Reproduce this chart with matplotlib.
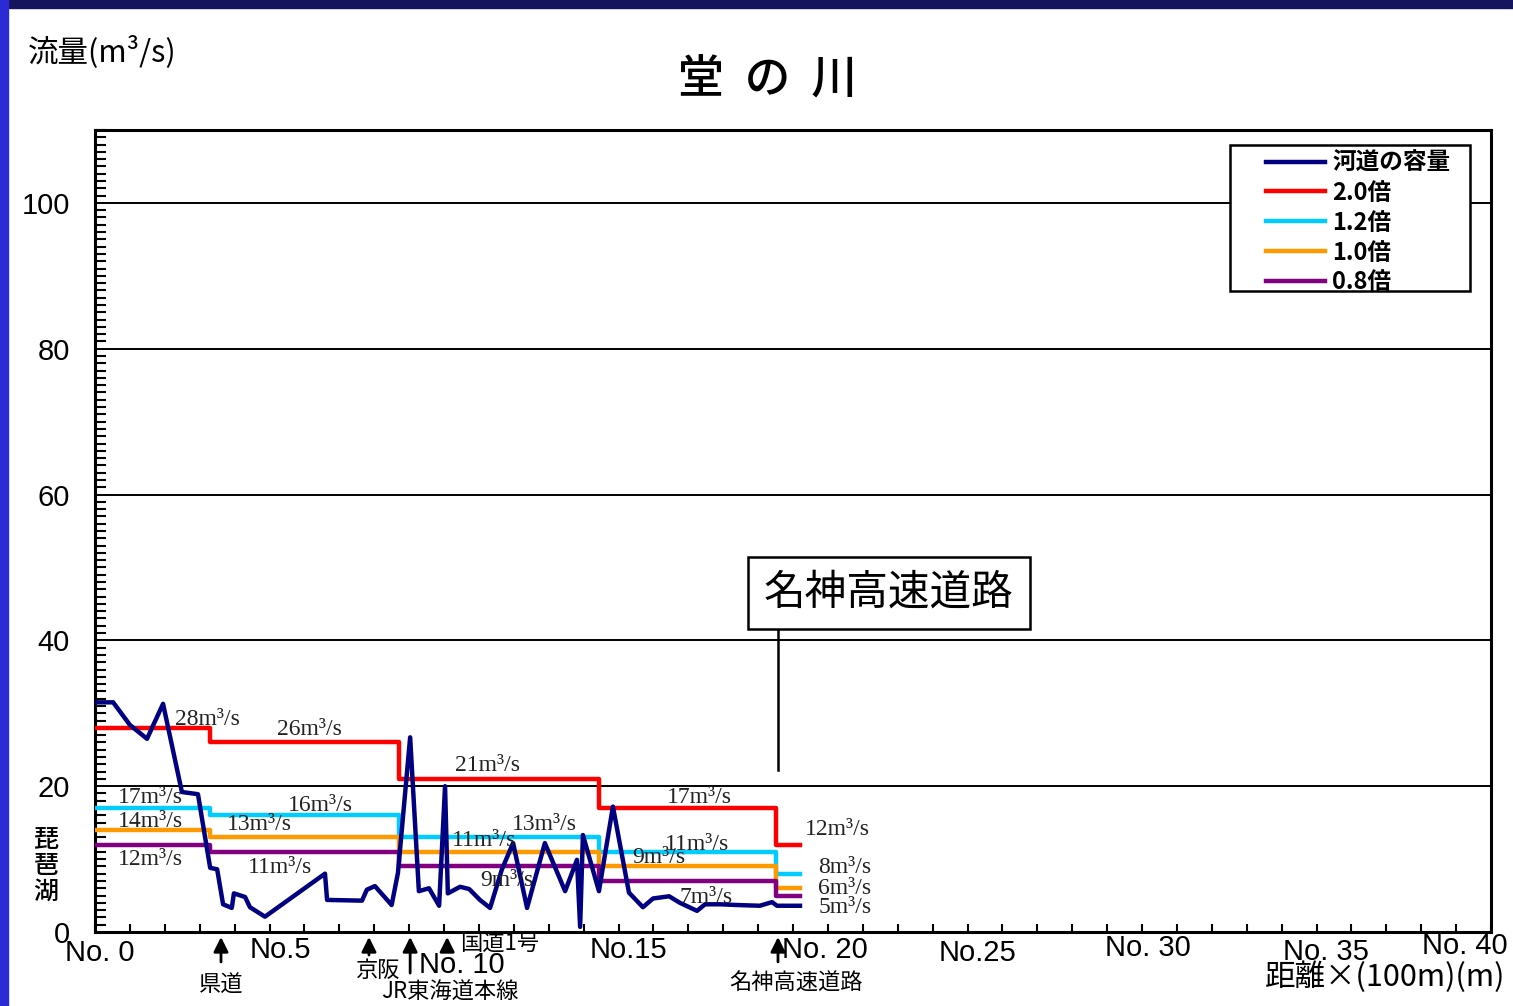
import matplotlib
matplotlib.use('Agg')
import matplotlib.pyplot as plt
from matplotlib import font_manager
from matplotlib.patches import Rectangle

W, H = 1513, 1006

# 河道の容量 (距離 No., 流量 m3/s)
cap_x = [0, 0.52, 1.0, 1.49, 1.95, 2.49, 2.95, 3.3, 3.5, 3.67, 3.92, 3.98, 4.3, 4.44, 4.87,
         6.59, 6.65, 7.65, 7.79, 8.02, 8.5, 8.68, 9.03, 9.28, 9.57, 9.86, 10.03, 10.11, 10.46,
         10.72, 11.03, 11.32, 11.66, 11.98, 12.38, 12.89, 13.47, 13.81, 13.9, 13.98, 14.44,
         14.84, 15.3, 15.7, 15.99, 16.45, 16.76, 17.25, 17.48, 17.91, 18.4, 19.05, 19.4, 19.54, 20.2]
cap_y = [31.5, 31.5, 28.4, 26.5, 31.3, 19.2, 18.9, 8.8, 8.6, 3.8, 3.3, 5.3, 4.8, 3.4, 2.1,
         8.0, 4.4, 4.3, 5.8, 6.3, 3.7, 8.1, 26.7, 5.6, 6.0, 3.6, 20.0, 5.3, 6.2,
         5.9, 4.4, 3.3, 8.6, 12.2, 3.3, 12.2, 5.6, 9.9, 0.7, 13.3, 5.6,
         17.2, 5.4, 3.4, 4.6, 4.9, 4.0, 2.9, 3.8, 3.8, 3.7, 3.6, 4.1, 3.6, 3.6]

# 区間境界 と 各倍率の流量
step_x = [0, 3.3, 8.7, 14.45, 19.5, 20.2]
q20 = [28, 26, 21, 17, 12]
q12 = [17, 16, 13, 11, 8]
q10 = [14, 13, 11, 9, 6]
q08 = [12, 11, 9, 7, 5]

series = [('2.0倍', q20, '#ff0000'), ('1.2倍', q12, '#00ccff'),
          ('1.0倍', q10, '#ff9900'), ('0.8倍', q08, '#800080')]

# 流量ラベル (文字, x, y)
flow_labels = [('28m³/s', 2.29, 29.1), ('26m³/s', 5.21, 27.8), ('21m³/s', 10.32, 22.9),
               ('17m³/s', 16.39, 18.5), ('12m³/s', 20.34, 14.1),
               ('17m³/s', 0.66, 18.5), ('16m³/s', 5.53, 17.4), ('13m³/s', 11.95, 14.7),
               ('11m³/s', 16.33, 12.0), ('8m³/s', 20.72, 8.8),
               ('14m³/s', 0.66, 15.2), ('13m³/s', 3.78, 14.7), ('11m³/s', 10.23, 12.6),
               ('9m³/s', 15.39, 10.2), ('6m³/s', 20.72, 6.0),
               ('12m³/s', 0.66, 9.9), ('11m³/s', 4.38, 8.8), ('9m³/s', 11.03, 7.1),
               ('7m³/s', 16.76, 4.8), ('5m³/s', 20.72, 3.3)]

# 横断構造物 (名称, 位置, 矢印長さpt)
crossings = [('県道', 3.61, 22), ('京阪', 7.85, 17), ('JR東海道本線', 9.03, 30),
             ('国道1号', 10.09, 10), ('名神高速道路', 19.57, 22)]

# 測点ラベル (文字, 画素x, 画素y)
station_labels = [('No. 0', 100, 953), ('No.5', 280, 950), ('No. 10', 462, 965),
                  ('No.15', 628, 950), ('No. 20', 825, 950), ('No.25', 978, 953),
                  ('No. 30', 1148, 948), ('No. 35', 1326, 952), ('No. 40', 1465, 946)]

names = {f.name for f in font_manager.fontManager.ttflist}
NARROW = 'Liberation Sans Narrow' if 'Liberation Sans Narrow' in names else 'Liberation Sans'
JP = 'Noto Sans CJK JP'
plt.rcParams['font.family'] = [JP, 'DejaVu Sans']


def fx(x):
    return x / W


def fy(y):
    return 1 - y / H


fig = plt.figure(figsize=(W / 100, H / 100), dpi=100)
# 枠の帯
fig.patches.append(Rectangle((0, fy(8)), 1, 8 / H, transform=fig.transFigure,
                             color='#15155e', zorder=0))
fig.patches.append(Rectangle((0, 0), 8 / W, 1, transform=fig.transFigure,
                             color='#2b2bd6', zorder=0))

ax = fig.add_axes([fx(95), fy(932), fx(1491) - fx(95), fy(130) - fy(932)])
ax.set_xlim(0, 40)
ax.set_ylim(0, 110)

for v in [20, 40, 60, 80, 100]:
    ax.axhline(v, color='black', lw=1.4, zorder=1)

ax.plot(cap_x, cap_y, color='#000080', lw=3.2, label='河道の容量', zorder=4)
for name, q, c in series:
    xs, ys = [], []
    for i, v in enumerate(q):
        xs += [step_x[i], step_x[i + 1]]
        ys += [v, v]
    ax.plot(xs, ys, color=c, lw=3.2, label=name, zorder=3)

for t, x, y in flow_labels:
    ax.text(x, y, t, fontsize=17, family=['Liberation Serif', 'DejaVu Serif'],
            color='#222222', ha='left', va='center', zorder=5)

# 名神高速道路 の囲み
ax.text(22.75, 46.5, '名神高速道路', fontsize=30, ha='center', va='center',
        bbox=dict(boxstyle='square,pad=0.38', fc='white', ec='black', lw=1.8), zorder=6)
ax.plot([19.57, 19.57], [22.2, 41.7], color='black', lw=1.8, zorder=5)

for name, x, ln in crossings:
    ax.annotate('', xy=(x, -0.3), xycoords='data', xytext=(0, -ln), textcoords='offset points',
                arrowprops=dict(arrowstyle='-|>', color='black', lw=2, mutation_scale=22),
                annotation_clip=False)

ax.set_xticks(range(0, 41))
ax.set_xticklabels([])
ax.set_yticks(range(0, 101, 20))
ax.set_yticklabels([str(v) for v in range(0, 101, 20)], family=[NARROW, 'DejaVu Sans'], fontsize=21)
ax.set_yticks(range(0, 111), minor=True)
ax.tick_params(axis='x', direction='in', length=6, width=1.5)
ax.tick_params(axis='y', which='major', length=0, pad=18)
ax.tick_params(axis='y', which='minor', direction='in', length=8, width=1.5)
for s in ax.spines.values():
    s.set_linewidth(2.2)

# 凡例の枠
ax.add_patch(Rectangle((0.813, 0.799), 0.172, 0.182, transform=ax.transAxes,
                       fc='white', ec='black', lw=1.8, zorder=6))
leg = ax.legend(loc='upper left', bbox_to_anchor=(0.839, 0.974),
                prop={'family': [JP], 'weight': 'bold', 'size': 17},
                frameon=False, handlelength=2.5, labelspacing=0.25, borderpad=0,
                borderaxespad=0, handletextpad=0.3)
leg.set_zorder(7)

fig.text(fx(768), fy(80), '堂  の  川', fontsize=33, ha='center', va='center', weight='medium')
fig.text(fx(28), fy(52), '流量(m³/s)', fontsize=22, ha='left', va='center')
fig.text(fx(46), fy(866), '琵\n琶\n湖', fontsize=18, ha='center', va='center',
         linespacing=1.0, weight='medium')
fig.text(fx(1505), fy(977), '距離×(100m)(m)', fontsize=22, ha='right', va='center')

for t, x, y in station_labels:
    fig.text(fx(x), fy(y), t, fontsize=21, family=[NARROW, 'DejaVu Sans'],
             ha='center', va='center')

fig.text(fx(221), fy(985), '県道', fontsize=16, ha='center', va='center')
fig.text(fx(378), fy(970), '京阪', fontsize=16, ha='center', va='center')
fig.text(fx(450), fy(992), 'JR東海道本線', fontsize=16, ha='center', va='center')
fig.text(fx(500), fy(944), '国道1号', fontsize=16, ha='center', va='center')
fig.text(fx(796), fy(983), '名神高速道路', fontsize=16, ha='center', va='center')

fig.savefig('out.png', dpi=100)
